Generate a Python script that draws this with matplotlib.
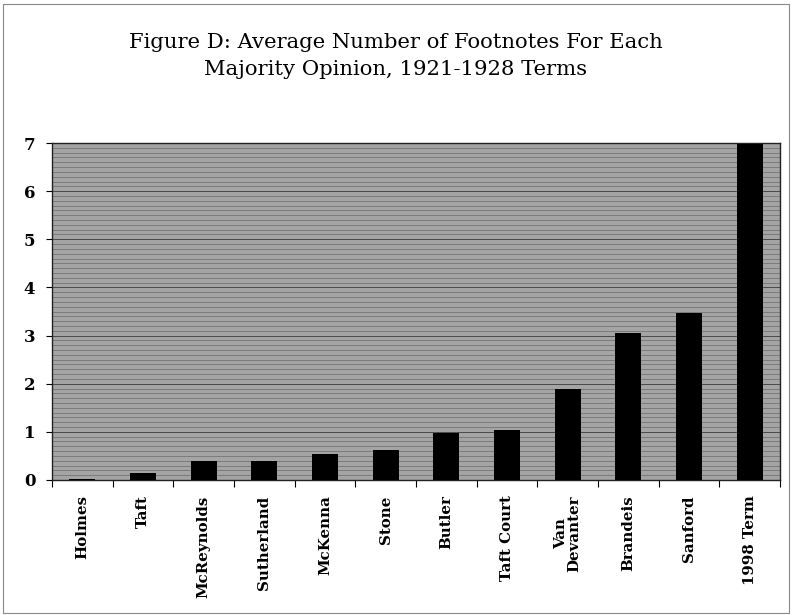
import matplotlib
matplotlib.use("Agg")
import matplotlib.pyplot as plt
import numpy as np
from matplotlib.ticker import MultipleLocator, FixedLocator

categories = ["Holmes", "Taft", "McReynolds", "Sutherland", "McKenna", "Stone",
              "Butler", "Taft Court", "Van\nDevanter", "Brandeis", "Sanford", "1998 Term"]
values = [0.02, 0.15, 0.40, 0.40, 0.55, 0.62, 0.97, 1.03, 1.88, 3.05, 3.47, 6.98]
yticks = [0, 1, 2, 3, 4, 5, 6, 7]
title = "Figure D: Average Number of Footnotes For Each\nMajority Opinion, 1921-1928 Terms"

serif = ["DejaVu Serif", "Liberation Serif"]

fig = plt.figure(figsize=(7.92, 6.15), dpi=100)
fig.patch.set_facecolor("white")
# outer frame
fig.add_artist(plt.Rectangle((0.004, 0.004), 0.992, 0.99, transform=fig.transFigure,
                             fill=False, edgecolor="#888888", linewidth=0.8))

ax = fig.add_axes([52/792, 1 - 480/615, (780-52)/792, (480-143)/615])
ax.set_facecolor("#a4a4a4")
x = np.arange(len(categories))
ax.bar(x, values, width=0.43, color="black", zorder=3)
ax.set_xlim(-0.5, len(categories) - 0.5)
ax.set_ylim(0, 7)

ax.set_yticks(yticks)
ax.set_yticklabels([str(t) for t in yticks], fontfamily=serif, fontweight="bold", fontsize=12)
ax.yaxis.set_minor_locator(MultipleLocator(0.1))
ax.grid(axis="y", which="minor", color="#555555", linewidth=0.6, alpha=0.6, zorder=1)
ax.grid(axis="y", which="major", color="#333333", linewidth=0.7, alpha=0.8, zorder=1)
ax.tick_params(axis="y", which="minor", length=0)
ax.tick_params(axis="y", which="major", length=4, width=0.8, pad=8)

ax.set_xticks(x)
ax.set_xticklabels(categories, rotation=90, fontfamily=serif, fontweight="bold",
                   fontsize=10.8, va="top", ha="center", linespacing=1.0)
ax.tick_params(axis="x", which="major", length=0, pad=11)
ax.xaxis.set_minor_locator(FixedLocator(np.arange(-0.5, len(categories), 1.0)))
ax.tick_params(axis="x", which="minor", length=5, width=0.8)

for s in ax.spines.values():
    s.set_color("#222222")
    s.set_linewidth(1.0)

fig.text(0.5, 1 - 56/615, title, ha="center", va="center", fontfamily=serif,
         fontsize=15.2, linespacing=1.55)

fig.savefig("out.png", dpi=100)
